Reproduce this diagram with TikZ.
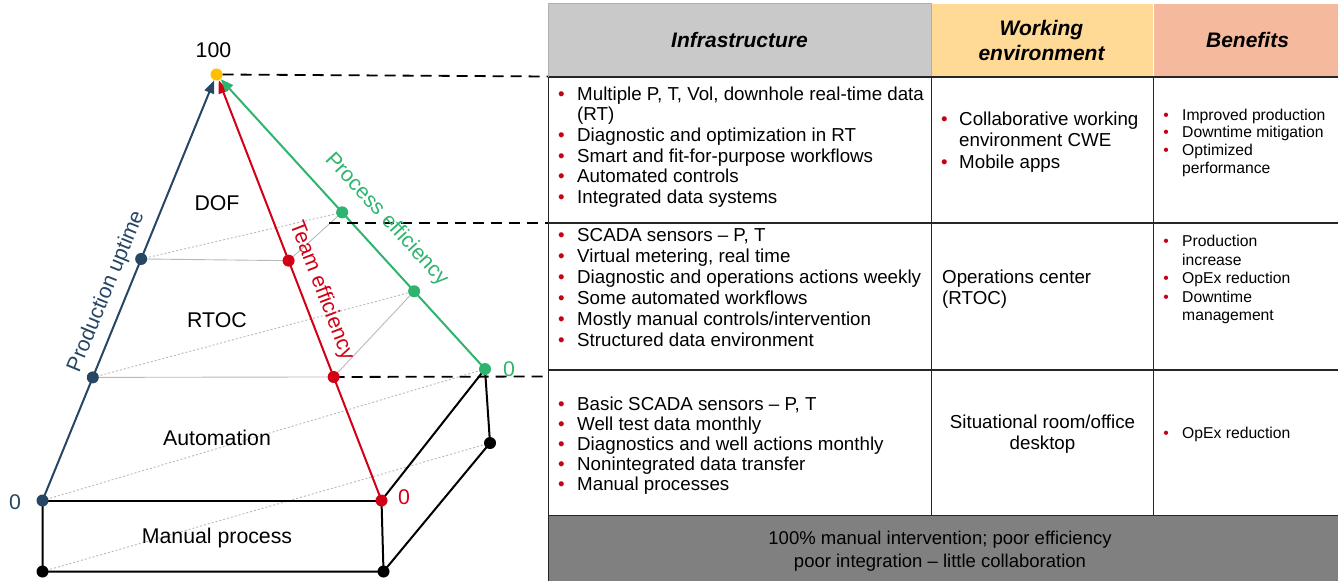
\documentclass[tikz,border=0pt]{standalone}
\usepackage{fontspec}
\setmainfont{Liberation Sans}
\usetikzlibrary{arrows.meta,calc}
\definecolor{cblue}{RGB}{38,70,100}
\definecolor{cred}{RGB}{210,0,20}
\definecolor{cgreen}{RGB}{46,180,110}
\definecolor{cyellow}{RGB}{255,192,0}
\definecolor{hgray}{RGB}{201,201,201}
\definecolor{hgrayb}{RGB}{175,175,175}
\definecolor{hyellow}{RGB}{255,217,150}
\definecolor{hsalmon}{RGB}{245,185,157}
\definecolor{fgray}{RGB}{128,128,128}
\definecolor{bulred}{RGB}{200,0,20}
\definecolor{lgray}{RGB}{185,185,185}
\newcommand{\bitem}[6]{%
  \node[#5, anchor=base west] (#1) at (#3,#4) {#6};
  \node[#5, anchor=base, text=bulred] (#1b) at (#2,#4) {\textbullet};}
\begin{document}
\begin{tikzpicture}[x=1pt,y=-1pt,
  lab/.style={font=\fontsize{21.3}{25}\selectfont, inner sep=0},
  infra/.style={font=\fontsize{18.75}{21}\selectfont, inner sep=0},
  bene/.style={font=\fontsize{15.7}{18}\selectfont, inner sep=0},
  head/.style={font=\fontsize{21}{24}\selectfont\bfseries\itshape, inner sep=0},
  foot/.style={font=\fontsize{18.5}{22}\selectfont, inner sep=0},
  dot/.style={circle, inner sep=0, minimum size=12pt, fill=#1},
  colline/.style={line width=2pt, draw=#1},
  boxline/.style={line width=2pt, black},
  thinsolid/.style={line width=0.9pt, lgray},
  thindot/.style={line width=0.9pt, lgray, dash pattern=on 2pt off 2pt},
  dashline/.style={line width=1.8pt, black, dash pattern=on 11pt off 7pt},
  tipa/.style={-{Triangle[length=13pt,width=10pt]}},
  tbl/.style={line width=1.3pt, black!85}
]
\useasboundingbox (0,0) rectangle (1338,581);

% ---------- pyramid ----------
\node[dot=cyellow] (A) at (216.5,74.5) {};
\coordinate (b0) at (42.5,500.5);
\coordinate (r0) at (381.5,500.5);
\coordinate (g0) at (485,369);
\coordinate (b1) at ($(b0)!0.289!(A)$);
\coordinate (b2) at ($(b0)!0.567!(A)$);
\coordinate (r1) at ($(r0)!0.290!(A)$);
\coordinate (r2) at ($(r0)!0.563!(A)$);
\coordinate (g1) at ($(g0)!0.264!(A)$);
\coordinate (g2) at ($(g0)!0.532!(A)$);
\coordinate (k1) at (42.5,571.5);
\coordinate (k2) at (383.5,571.5);
\coordinate (k3) at (490,443);

% grey guide lines
\draw[thindot] (b2) -- (g2);
\draw[thindot] (b1) -- (g1);
\draw[thindot] (b0) -- (g0);
\draw[thindot] (k1) -- (k3);
\draw[thinsolid] (b2) -- (r2) -- (g2);
\draw[thinsolid] (b1) -- (r1) -- (g1);

% box
\draw[boxline] (b0) -- (r0);
\draw[boxline] (b0) -- (k1) -- (k2) -- (r0) -- (g0) -- (k3) -- (k2);

% coloured axes
\draw[colline=cblue, tipa] (b0) -- (A);
\draw[colline=cred, tipa] (r0) -- (A);
\draw[colline=cgreen, tipa] (g0) -- (A);

% dashed level lines
\coordinate (d1) at (548,76.5);
\coordinate (d2s) at (329,223);
\coordinate (d2) at (548,223);
\coordinate (d3) at (548,376.5);
\draw[dashline] (A.east) -- (d1);
\draw[dashline] (d2s) -- (d2);
\draw[dashline] (r1) -- (d3);

% dots
\node[dot=cblue] (B0) at (b0) {};
\node[dot=cblue] (B1) at (b1) {};
\node[dot=cblue] (B2) at (b2) {};
\node[dot=cred] (R0) at (r0) {};
\node[dot=cred] (R1) at (r1) {};
\node[dot=cred] (R2) at (r2) {};
\node[dot=cgreen] (G0) at (g0) {};
\node[dot=cgreen] (G1) at (g1) {};
\node[dot=cgreen] (G2) at (g2) {};
\node[dot=black] (K1) at (k1) {};
\node[dot=black] (K2) at (k2) {};
\node[dot=black] (K3) at (k3) {};

% pyramid labels
\node[lab] (l100) at (213.5,50.5) {100};
\node[lab] (ldof) at (217,203.5) {DOF};
\node[lab] (lrtoc) at (217,320.5) {RTOC};
\node[lab] (lauto) at (217,437.5) {Automation};
\node[lab] (lman) at (217,537.5) {Manual process};
\node[lab, text=cblue] (z1) at (15,502) {0};
\node[lab, text=cred] (z2) at (404,497) {0};
\node[lab, text=cgreen] (z3) at (509,369) {0};
\node[lab, text=cblue, rotate=67.7] (lpu) at (106.5,291.5) {Production uptime};
\node[lab, text=cred, rotate=-68.8] (lte) at (321.5,291) {Team efficiency};
\node[lab, text=cgreen, rotate=-47.4] (lpe) at (386.5,219.5) {Process efficiency};

% ---------- table ----------
\fill[hgray] (548.5,3.5) rectangle (931,77);
\draw[hgrayb, line width=1pt] (548.5,3.5) rectangle (931,77);
\fill[hyellow] (931.5,3.5) rectangle (1153,77);
\fill[hsalmon] (1154,3.5) rectangle (1338,77);
\draw[tbl] (548.5,77) -- (1338,77);
\draw[tbl] (548.5,223) -- (1338,223);
\draw[tbl] (548.5,370) -- (1338,370);
\draw[tbl] (548.5,77) -- (548.5,515.5);
\draw[tbl] (931.5,77) -- (931.5,515.5);
\draw[tbl] (1153.5,77) -- (1153.5,515.5);
\fill[fgray] (548.5,515.5) rectangle (1338,581);
\draw[tbl, line width=1.6pt] (548.5,581) -- (548.5,515.5) -- (1338,515.5);

% headers
\node[head, anchor=base] (h1) at (739.5,47.7) {Infrastructure};
\node[head, anchor=base] (h2a) at (1041.5,35.5) {Working};
\node[head, anchor=base] (h2b) at (1041.5,60) {environment};
\node[head, anchor=base] (h3) at (1247.5,47.7) {Benefits};

% row 1
\bitem{a1}{561.5}{577}{100}{infra}{Multiple P, T, Vol, downhole real-time data}
\node[infra, anchor=base west] (a1c) at (577,120.7) {(RT)};
\bitem{a2}{561.5}{577}{141.4}{infra}{Diagnostic and optimization in RT}
\bitem{a3}{561.5}{577}{162.1}{infra}{Smart and fit-for-purpose workflows}
\bitem{a4}{561.5}{577}{182.8}{infra}{Automated controls}
\bitem{a5}{561.5}{577}{203.5}{infra}{Integrated data systems}
\bitem{w1}{944.3}{959}{125}{infra}{Collaborative working}
\node[infra, anchor=base west] (w1c) at (959,146.5) {environment CWE};
\bitem{w2}{944.3}{959}{168}{infra}{Mobile apps}
\bitem{e1}{1166}{1182}{120}{bene}{Improved production}
\bitem{e2}{1166}{1182}{137.8}{bene}{Downtime mitigation}
\bitem{e3}{1166}{1182}{155.5}{bene}{Optimized}
\node[bene, anchor=base west] (e3c) at (1182,173.2) {performance};

% row 2
\bitem{c1}{561.5}{577}{241}{infra}{SCADA sensors -- P, T}
\bitem{c2}{561.5}{577}{262}{infra}{Virtual metering, real time}
\bitem{c3}{561.5}{577}{283}{infra}{Diagnostic and operations actions weekly}
\bitem{c4}{561.5}{577}{304}{infra}{Some automated workflows}
\bitem{c5}{561.5}{577}{325}{infra}{Mostly manual controls/intervention}
\bitem{c6}{561.5}{577}{346}{infra}{Structured data environment}
\node[infra, anchor=base west] (v1) at (942,283.5) {Operations center};
\node[infra, anchor=base west] (v2) at (942,304.5) {(RTOC)};
\bitem{f1}{1166}{1182}{246.5}{bene}{Production}
\node[bene, anchor=base west] (f1c) at (1182,265) {increase};
\bitem{f2}{1166}{1182}{283.5}{bene}{OpEx reduction}
\bitem{f3}{1166}{1182}{302}{bene}{Downtime}
\node[bene, anchor=base west] (f3c) at (1182,320.5) {management};

% row 3
\bitem{s1}{561.5}{577}{410}{infra}{Basic SCADA sensors -- P, T}
\bitem{s2}{561.5}{577}{430.2}{infra}{Well test data monthly}
\bitem{s3}{561.5}{577}{450.4}{infra}{Diagnostics and well actions monthly}
\bitem{s4}{561.5}{577}{470.6}{infra}{Nonintegrated data transfer}
\bitem{s5}{561.5}{577}{490.8}{infra}{Manual processes}
\node[infra, anchor=base] (u1) at (1042.5,428.5) {Situational room/office};
\node[infra, anchor=base] (u2) at (1042.5,449.5) {desktop};
\bitem{t1}{1166}{1182}{438}{bene}{OpEx reduction}

% footer
\node[foot, anchor=base] (ft1) at (940,544.5) {100\% manual intervention; poor efficiency};
\node[foot, anchor=base] (ft2) at (940,567) {poor integration -- little collaboration};
\end{tikzpicture}
\end{document}
